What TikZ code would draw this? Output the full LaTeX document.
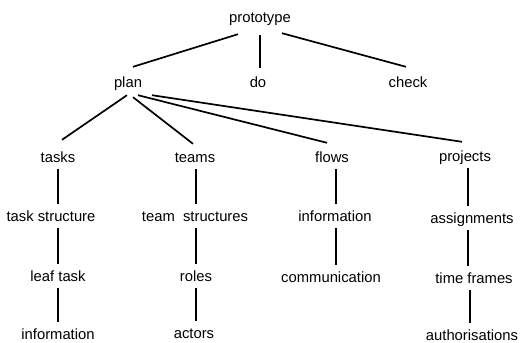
\documentclass[tikz,border=0pt]{standalone}
\usepackage{fontspec}
\setmainfont{Liberation Sans}
\begin{document}
\begin{tikzpicture}[x=1pt,y=-1pt,
    item/.style={inner xsep=0pt,inner ysep=5.5pt,text height=11.5pt,text depth=1.5pt,
      font=\fontsize{14.8}{17}\selectfont},
    link/.style={line width=1.7pt}]
  \useasboundingbox (0,0) rectangle (520,343);
  % top levels
  \node[item] (proto) at (260,17) {prototype};
  \node[item] (plan) at (128,82) {plan};
  \node[item] (do) at (258,82) {do};
  \node[item] (check) at (408,82) {check};
  % columns under plan
  \node[item] (tasks) at (58,157) {tasks};
  \node[item] (teams) at (195,157) {teams};
  \node[item] (flows) at (332,157) {flows};
  \node[item] (projects) at (465,156) {projects};
  \node[item] (tstruct) at (51,216) {task structure};
  \node[item] (mstruct) at (195,216) {team\ \ structures};
  \node[item] (finfo) at (335,216) {information};
  \node[item] (assign) at (472,218) {assignments};
  \node[item] (leaf) at (58,276) {leaf task};
  \node[item] (roles) at (196,276) {roles};
  \node[item] (comm) at (331,277) {communication};
  \node[item] (frames) at (474,278) {time frames};
  \node[item] (linfo) at (58,334) {information};
  \node[item] (actors) at (194,333) {actors};
  \node[item] (auth) at (472,335) {authorisations};
  % links from prototype
  \draw[link] ([shift={(-22,5)}]proto.south) -- ([shift={(5,-3)}]plan.north);
  \draw[link] ([shift={(0,6)}]proto.south) -- ([shift={(2,-2)}]do.north);
  \draw[link] ([shift={(22,4)}]proto.south) -- ([shift={(-2,-3)}]check.north);
  % links from plan
  \draw[link] ([shift={(-1,1)}]plan.south) -- ([shift={(4,-5)}]tasks.north);
  \draw[link] ([shift={(5,3)}]plan.south) -- ([shift={(-2,-1)}]teams.north);
  \draw[link] ([shift={(10,1)}]plan.south) -- ([shift={(-5,-2)}]flows.north);
  \draw[link] ([shift={(24,1)}]plan.south) -- ([shift={(-3,-2)}]projects.north);
  % vertical chains
  \draw[link] (tasks.south) -- (tasks.south |- tstruct.north);
  \draw[link] (leaf.north |- tstruct.south) -- (leaf.north);
  \draw[link] (leaf.south) -- (leaf.south |- linfo.north);
  \draw[link] ([xshift=1pt]teams.south) -- ([xshift=1pt]teams.south |- mstruct.north);
  \draw[link] (roles.north |- mstruct.south) -- (roles.north);
  \draw[link] (roles.south) -- (roles.south |- actors.north);
  \draw[link] ([xshift=4pt]flows.south) -- ([xshift=4pt]flows.south |- finfo.north);
  \draw[link] ([xshift=1pt]finfo.south) -- ([xshift=1pt]finfo.south |- comm.north);
  \draw[link] ([xshift=3pt]projects.south) -- ([xshift=3pt]projects.south |- assign.north);
  \draw[link] ([xshift=-4pt]assign.south) -- ([xshift=-4pt]assign.south |- frames.north);
  \draw[link] ([xshift=-4pt]frames.south) -- ([xshift=-4pt]frames.south |- auth.north);
\end{tikzpicture}
\end{document}
